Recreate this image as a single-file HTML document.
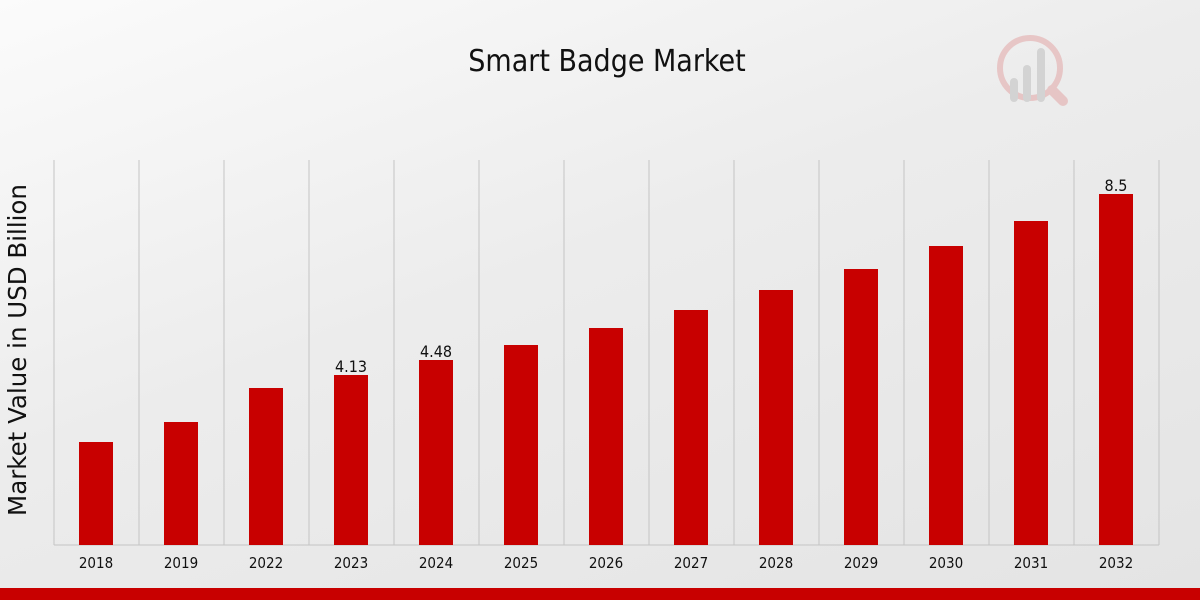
<!DOCTYPE html>
<html><head><meta charset="utf-8"><style>
html,body{margin:0;padding:0}
body{width:1200px;height:600px;overflow:hidden;background:linear-gradient(160deg,#fbfbfb 0%,#ececec 45%,#e4e4e4 100%);font-family:"DejaVu Sans Condensed","Liberation Sans Narrow","Liberation Sans",sans-serif}
</style></head><body>
<svg width="1200" height="600" xmlns="http://www.w3.org/2000/svg" style="position:absolute;left:0;top:0">
<text x="607" y="71" text-anchor="middle" font-size="30" font-family="DejaVu Sans Condensed, Liberation Sans Narrow, Liberation Sans, sans-serif" fill="#111">Smart Badge Market</text>
<text transform="translate(26,350) rotate(-90)" text-anchor="middle" font-size="24.5" font-family="DejaVu Sans, Liberation Sans, sans-serif" fill="#111">Market Value in USD Billion</text>
<g stroke="#c4c4c4" stroke-width="1">
<line x1="54" y1="160" x2="54" y2="545"/><line x1="139" y1="160" x2="139" y2="545"/><line x1="224" y1="160" x2="224" y2="545"/><line x1="309" y1="160" x2="309" y2="545"/><line x1="394" y1="160" x2="394" y2="545"/><line x1="479" y1="160" x2="479" y2="545"/><line x1="564" y1="160" x2="564" y2="545"/><line x1="649" y1="160" x2="649" y2="545"/><line x1="734" y1="160" x2="734" y2="545"/><line x1="819" y1="160" x2="819" y2="545"/><line x1="904" y1="160" x2="904" y2="545"/><line x1="989" y1="160" x2="989" y2="545"/><line x1="1074" y1="160" x2="1074" y2="545"/><line x1="1159" y1="160" x2="1159" y2="545"/>
<line x1="54" y1="545" x2="1159" y2="545"/>
</g>
<g fill="#c80000">
<rect x="79" y="442" width="34" height="103"/><rect x="164" y="422" width="34" height="123"/><rect x="249" y="388" width="34" height="157"/><rect x="334" y="375" width="34" height="170"/><rect x="419" y="360" width="34" height="185"/><rect x="504" y="345" width="34" height="200"/><rect x="589" y="328" width="34" height="217"/><rect x="674" y="310" width="34" height="235"/><rect x="759" y="290" width="34" height="255"/><rect x="844" y="269" width="34" height="276"/><rect x="929" y="246" width="34" height="299"/><rect x="1014" y="221" width="34" height="324"/><rect x="1099" y="194" width="34" height="351"/>
</g>
<g font-size="16" text-anchor="middle" fill="#111">
<text x="351" y="372">4.13</text><text x="436" y="357">4.48</text><text x="1116" y="191">8.5</text>
</g>
<g font-size="15" text-anchor="middle" fill="#111">
<text x="96" y="568">2018</text><text x="181" y="568">2019</text><text x="266" y="568">2022</text><text x="351" y="568">2023</text><text x="436" y="568">2024</text><text x="521" y="568">2025</text><text x="606" y="568">2026</text><text x="691" y="568">2027</text><text x="776" y="568">2028</text><text x="861" y="568">2029</text><text x="946" y="568">2030</text><text x="1031" y="568">2031</text><text x="1116" y="568">2032</text>
</g>
<g opacity="0.5">
<circle cx="1030" cy="68" r="30" fill="none" stroke="#e2a0a0" stroke-width="6"/>
<line x1="1052" y1="90" x2="1063" y2="101" stroke="#e2a0a0" stroke-width="10" stroke-linecap="round"/>
<rect x="1010" y="78" width="8" height="24" rx="4" fill="#bbb"/>
<rect x="1023" y="65" width="8" height="37" rx="4" fill="#bbb"/>
<rect x="1037" y="48" width="8" height="54" rx="4" fill="#bbb"/>
</g>
<rect x="0" y="588" width="1200" height="12" fill="#c80000"/>
</svg>
</body></html>
